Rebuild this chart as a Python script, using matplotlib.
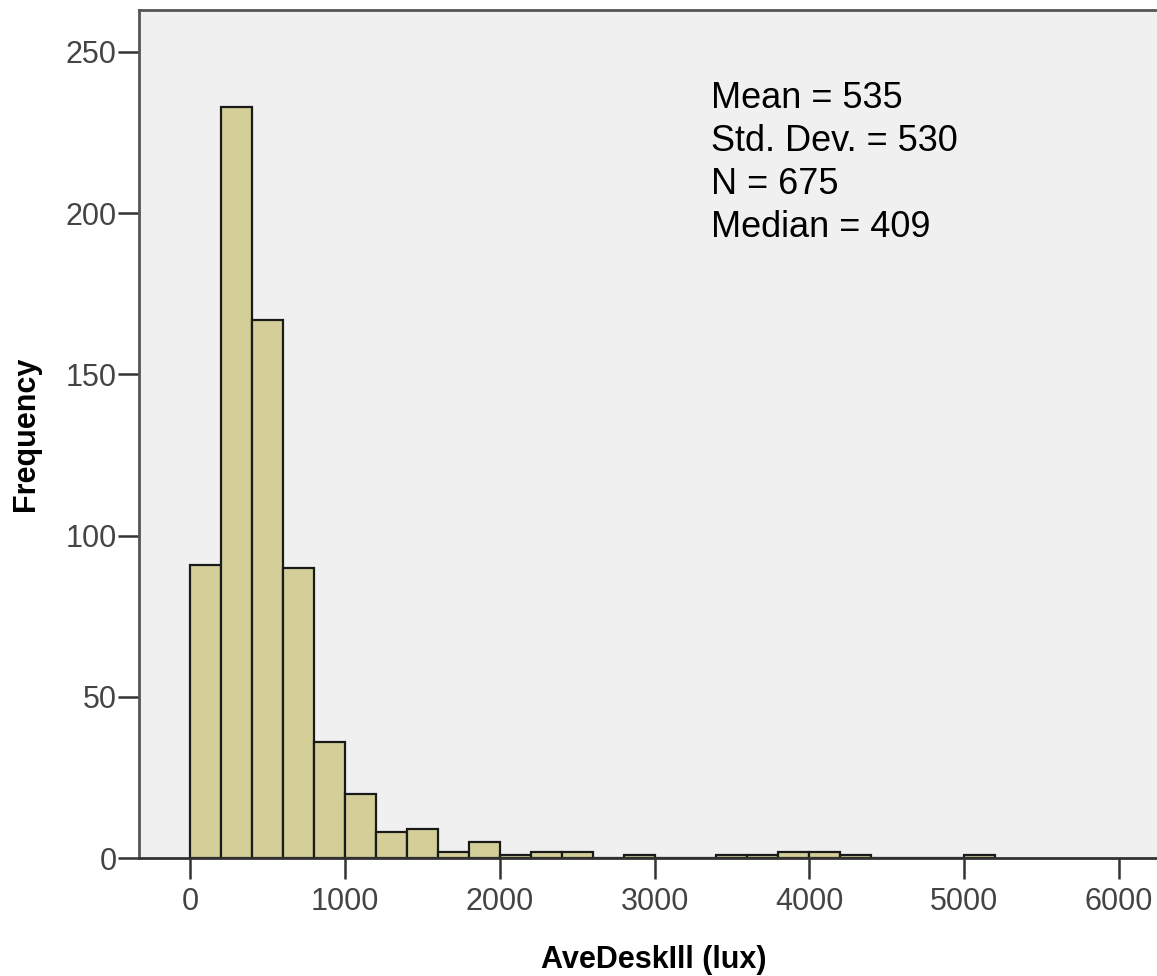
import numpy as np
import matplotlib.pyplot as plt

# histogram counts, bins of 200 lux
bin_edges = np.arange(0, 5400, 200)
counts = [91, 233, 167, 90, 36, 20, 8, 9, 2, 5, 1, 2, 2, 0, 1, 0, 0, 1, 1, 2, 2, 1, 0, 0, 0, 1]
x_ticks = [0, 1000, 2000, 3000, 4000, 5000, 6000]
y_ticks = [0, 50, 100, 150, 200, 250]
stats_text = ["Mean = 535", "Std. Dev. = 530", "N = 675", "Median = 409"]

plt.rcParams['font.family'] = ['Liberation Sans', 'DejaVu Sans']

fig = plt.figure(figsize=(11.57, 9.76), dpi=100)
W, H = 1157, 976
ax = fig.add_axes([139 / W, (H - 858) / H, (W - 139) / W + 0.01, (858 - 10) / H])
ax.set_facecolor('#F0F0F0')

ax.bar(bin_edges[:-1], counts, width=200, align='edge', color='#D4CF99',
       edgecolor='#1a1a1a', linewidth=1.6, zorder=3)

ax.set_xlim(-330, 6320)
ax.set_ylim(0, 263)
ax.set_xticks(x_ticks)
ax.set_yticks(y_ticks)
ax.tick_params(axis='both', length=15, width=1.8, color='#333333',
               labelsize=22, labelcolor='#444444', direction='out')
ax.tick_params(axis='x', pad=6)
ax.tick_params(axis='y', pad=1)

for side in ['left', 'top']:
    ax.spines[side].set_color('#555555')
    ax.spines[side].set_linewidth(2)
ax.spines['bottom'].set_color('#333333')
ax.spines['bottom'].set_linewidth(2)
ax.spines['bottom'].set_zorder(4)
ax.spines['right'].set_visible(False)

ax.set_xlabel('AveDeskIll (lux)', fontsize=22, fontweight='bold', labelpad=20)
ax.set_ylabel('Frequency', fontsize=22, fontweight='bold', labelpad=18)

ax.text(3365, 241, "\n".join(stats_text), fontsize=26, va='top', ha='left',
        linespacing=1.3, color='black')

fig.savefig('out.png', dpi=100)
